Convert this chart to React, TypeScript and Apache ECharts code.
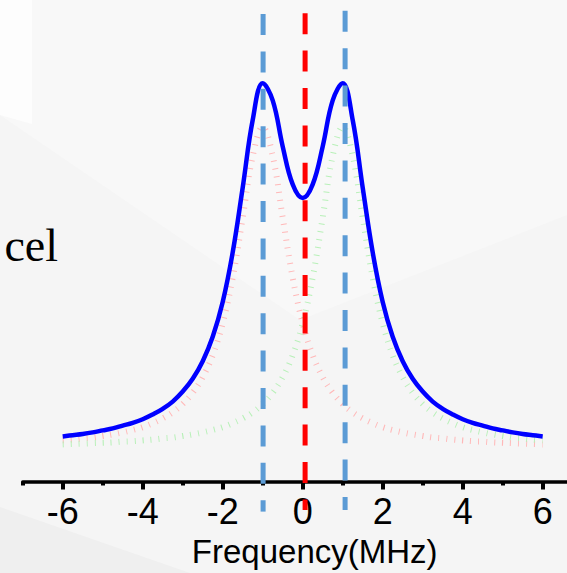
import React, { useEffect, useRef } from "react";
import * as echarts from "echarts";

// Frequency samples (MHz)
const freqs = [
  -6, -5.75, -5.5, -5.25, -5, -4.75, -4.5, -4.25, -4, -3.75, -3.5, -3.25, -3,
  -2.75, -2.5, -2.25, -2, -1.75, -1.5, -1.25, -1, -0.75, -0.5, -0.25, 0, 0.25,
  0.5, 0.75, 1, 1.25, 1.5, 1.75, 2, 2.25, 2.5, 2.75, 3, 3.25, 3.5, 3.75, 4,
  4.25, 4.5, 4.75, 5, 5.25, 5.5, 5.75, 6,
];
// Total spectrum (blue solid)
const totalSpectrum = [
  0.114, 0.117, 0.12, 0.124, 0.129, 0.134, 0.141, 0.148, 0.157, 0.169, 0.183,
  0.201, 0.226, 0.258, 0.302, 0.363, 0.45, 0.574, 0.736, 0.905, 0.997, 0.954,
  0.839, 0.744, 0.71, 0.744, 0.839, 0.954, 0.997, 0.905, 0.736, 0.574, 0.45,
  0.363, 0.302, 0.258, 0.226, 0.201, 0.183, 0.169, 0.157, 0.148, 0.141, 0.134,
  0.129, 0.124, 0.12, 0.117, 0.114,
];
// Left component (red dotted)
const leftComponent = [
  0.104, 0.106, 0.109, 0.111, 0.115, 0.119, 0.124, 0.13, 0.137, 0.147, 0.159,
  0.174, 0.195, 0.223, 0.262, 0.317, 0.397, 0.511, 0.661, 0.815, 0.887, 0.815,
  0.661, 0.511, 0.397, 0.317, 0.262, 0.223, 0.195, 0.174, 0.159, 0.147, 0.137,
  0.13, 0.124, 0.119, 0.115, 0.111, 0.109, 0.106, 0.104, 0.102, 0.101, 0.099,
  0.098, 0.097, 0.096, 0.095, 0.094,
];
// Right component (green dotted)
const rightComponent = [
  0.094, 0.095, 0.096, 0.097, 0.098, 0.099, 0.101, 0.102, 0.104, 0.106, 0.109,
  0.111, 0.115, 0.119, 0.124, 0.13, 0.137, 0.147, 0.159, 0.174, 0.195, 0.223,
  0.262, 0.317, 0.397, 0.511, 0.661, 0.815, 0.887, 0.815, 0.661, 0.511, 0.397,
  0.317, 0.262, 0.223, 0.195, 0.174, 0.159, 0.147, 0.137, 0.13, 0.124, 0.119,
  0.115, 0.111, 0.109, 0.106, 0.104,
];
// Vertical guide lines (dashed)
const guideFreqs = [-0.99, 0.06, 1.06];
const guideTops = [1.17, 1.172, 1.178];
const guideBottoms = [-0.074, -0.07, -0.07];
// Axis ticks / labels
const majorTicks = [-6, -4, -2, 0, 2, 4, 6];
const minorTicks = [-7, -5, -3, -1, 1, 3, 5, 7];
const axisTitle = "Frequency(MHz)";
const sideText = "cel";

export default function App() {
  const ref = useRef<HTMLDivElement>(null);

  useEffect(() => {
    if (!ref.current) return;
    const chart = echarts.init(ref.current, null, { renderer: "svg" });
    const pair = (ys: number[]) => freqs.map((x, i) => [x, ys[i]]);
    const guideColors = ["#5b9bd5", "#ff0000", "#5b9bd5"];

    const guideSeries = guideFreqs.map((x, i) => ({
      type: "line",
      data: [
        [x, guideTops[i]],
        [x, guideBottoms[i]],
      ],
      symbol: "none",
      silent: true,
      clip: false,
      z: 6,
      lineStyle: { color: guideColors[i], width: 5, type: [21, 16.4] },
    }));

    chart.setOption({
      animation: false,
      backgroundColor: "#f5f5f5",
      graphic: [
        {
          type: "polygon",
          z: -10,
          shape: { points: [[0, 0], [567, 0], [567, 215], [300, 320], [0, 115]] },
          style: { fill: "#f8f8f8" },
        },
        {
          type: "polygon",
          z: -10,
          shape: { points: [[0, 0], [32, 0], [32, 124], [0, 115]] },
          style: { fill: "#fdfdfd" },
        },
        {
          type: "polygon",
          z: -10,
          shape: { points: [[0, 507], [190, 573], [0, 573]] },
          style: { fill: "#efefef" },
        },
        {
          type: "text",
          z: 10,
          x: 58,
          y: 245.5,
          style: {
            text: sideText,
            fontSize: 46,
            fontFamily: "Liberation Serif",
            fill: "#000",
            align: "right",
            verticalAlign: "middle",
          },
        },
      ],
      grid: {
        left: 22.7,
        width: 584,
        top: 2,
        bottom: 91,
        containLabel: false,
        outerBoundsMode: "none",
      },
      xAxis: [
        {
          type: "value",
          min: -7,
          max: 7.6,
          position: "bottom",
          name: axisTitle,
          nameLocation: "middle",
          nameGap: 53,
          nameTextStyle: { fontSize: 33, fontFamily: "Liberation Sans", color: "#000" },
          axisLine: {
            show: true,
            onZero: false,
            lineStyle: { color: "#000", width: 3.5 },
          },
          axisTick: {
            show: true,
            customValues: majorTicks,
            length: 7.5,
            lineStyle: { color: "#000", width: 4 },
          },
          axisLabel: {
            show: true,
            customValues: majorTicks,
            margin: 11,
            fontSize: 36,
            fontFamily: "Liberation Sans",
            color: "#000",
          },
          splitLine: { show: false },
        },
        {
          type: "value",
          min: -7,
          max: 7.6,
          position: "bottom",
          axisLine: { show: false, onZero: false },
          axisTick: {
            show: true,
            customValues: minorTicks,
            length: 3.5,
            lineStyle: { color: "#000", width: 4 },
          },
          axisLabel: { show: false },
          splitLine: { show: false },
        },
      ],
      yAxis: { type: "value", min: 0, max: 1.2, show: false, splitLine: { show: false } },
      series: [
        {
          type: "line",
          data: pair(leftComponent),
          symbol: "none",
          smooth: 0.4,
          z: 2,
          lineStyle: { color: "#ffb8b8", width: 6, type: [1, 7] },
        },
        {
          type: "line",
          data: pair(rightComponent),
          symbol: "none",
          smooth: 0.4,
          z: 2,
          lineStyle: { color: "#b8f0b8", width: 6, type: [1, 7] },
        },
        {
          type: "line",
          data: pair(totalSpectrum),
          symbol: "none",
          smooth: 0.4,
          z: 4,
          lineStyle: { color: "#0000ff", width: 4.5 },
        },
        ...guideSeries,
      ],
    });

    return () => chart.dispose();
  }, []);

  return (
    <div
      ref={ref}
      style={{ position: "fixed", left: 0, top: 0, width: 567, height: 573 }}
    />
  );
}
